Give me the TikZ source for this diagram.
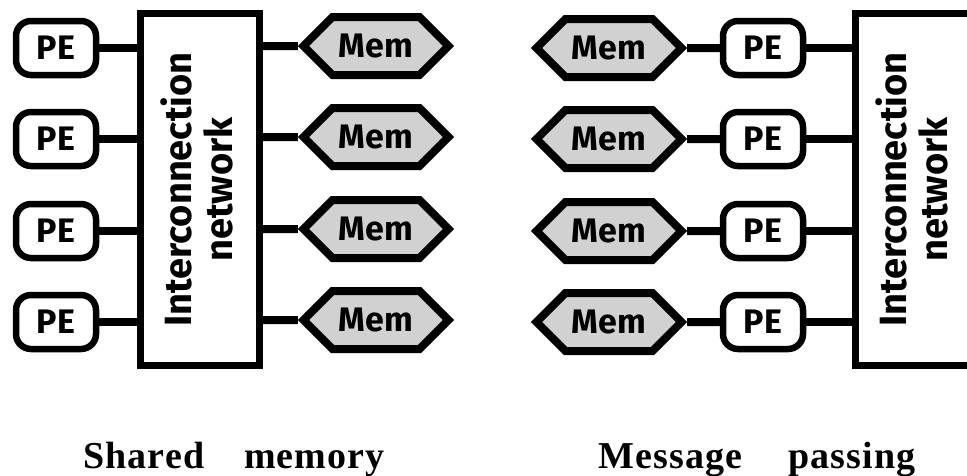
\documentclass[tikz,border=0pt]{standalone}
\usepackage{fontspec}
\setmainfont{Liberation Serif}
\setsansfont{Fira Sans}
\usepackage{graphicx}
\usetikzlibrary{shapes.symbols}

\begin{document}
\begin{tikzpicture}[x=1pt,y=-1pt]
\tikzset{pe/.style={draw,rectangle,rounded corners=15pt,line width=6.5pt,minimum width=80pt,minimum height=54pt,inner sep=0pt,font=\sffamily\bfseries\fontsize{34}{40}\selectfont}}
\tikzset{mem/.style={draw,signal,signal to=west and east,signal pointer angle=90,fill=black!18,line width=8pt,text width=76pt,align=center,text height=23pt,text depth=0pt,inner xsep=5.5pt,inner ysep=17.5pt,font=\sffamily\bfseries\fontsize{34}{40}\selectfont}}
\tikzset{netz/.style={draw,rectangle,line width=7pt,minimum width=119pt,minimum height=352pt,inner sep=0pt,font=\sffamily\bfseries\fontsize{38}{41}\selectfont}}
\tikzset{verbindung/.style={line width=8pt}}
\tikzset{titel/.style={anchor=base,font=\bfseries\fontsize{38}{42}\selectfont\addfontfeature{LetterSpace=3}}}
\useasboundingbox (0,0) rectangle (967,475);
% shared memory
\node [netz] (na) at (200,189.5) {\rotatebox{90}{\begin{tabular}{@{}c@{}}\rule{0pt}{36.7pt}Interconnection\\network\end{tabular}}};
\node [pe] (pa1) at (56,48) {PE};
\node [pe] (pa2) at (56,139) {PE};
\node [pe] (pa3) at (56,231) {PE};
\node [pe] (pa4) at (56,322) {PE};
\node [mem] (ma1) at (376,46) {Mem};
\node [mem] (ma2) at (376,137) {Mem};
\node [mem] (ma3) at (376,229) {Mem};
\node [mem] (ma4) at (376,320) {Mem};
\draw[verbindung] (pa1) to (pa1 -| na.west);
\draw[verbindung] (pa2) to (pa2 -| na.west);
\draw[verbindung] (pa3) to (pa3 -| na.west);
\draw[verbindung] (pa4) to (pa4 -| na.west);
\draw[verbindung] (na.east |- ma1) to (ma1);
\draw[verbindung] (na.east |- ma2) to (ma2);
\draw[verbindung] (na.east |- ma3) to (ma3);
\draw[verbindung] (na.east |- ma4) to (ma4);
\node [titel] (ta) at (234,468) {Shared\hspace{40pt}memory};
% message passing
\node [netz] (nb) at (915,189.5) {\rotatebox{90}{\begin{tabular}{@{}c@{}}\rule{0pt}{36.7pt}Interconnection\\network\end{tabular}}};
\node [mem] (mb1) at (609,48) {Mem};
\node [mem] (mb2) at (609,139) {Mem};
\node [mem] (mb3) at (609,231) {Mem};
\node [mem] (mb4) at (609,322) {Mem};
\node [pe] (pb1) at (763,48) {PE};
\node [pe] (pb2) at (763,139) {PE};
\node [pe] (pb3) at (763,231) {PE};
\node [pe] (pb4) at (763,322) {PE};
\draw[verbindung] (mb1) to (pb1);
\draw[verbindung] (mb2) to (pb2);
\draw[verbindung] (mb3) to (pb3);
\draw[verbindung] (mb4) to (pb4);
\draw[verbindung] (pb1) to (pb1 -| nb.west);
\draw[verbindung] (pb2) to (pb2 -| nb.west);
\draw[verbindung] (pb3) to (pb3 -| nb.west);
\draw[verbindung] (pb4) to (pb4 -| nb.west);
\node [titel] (tb) at (757,468) {Message\hspace{46pt}passing};
\end{tikzpicture}
\end{document}
